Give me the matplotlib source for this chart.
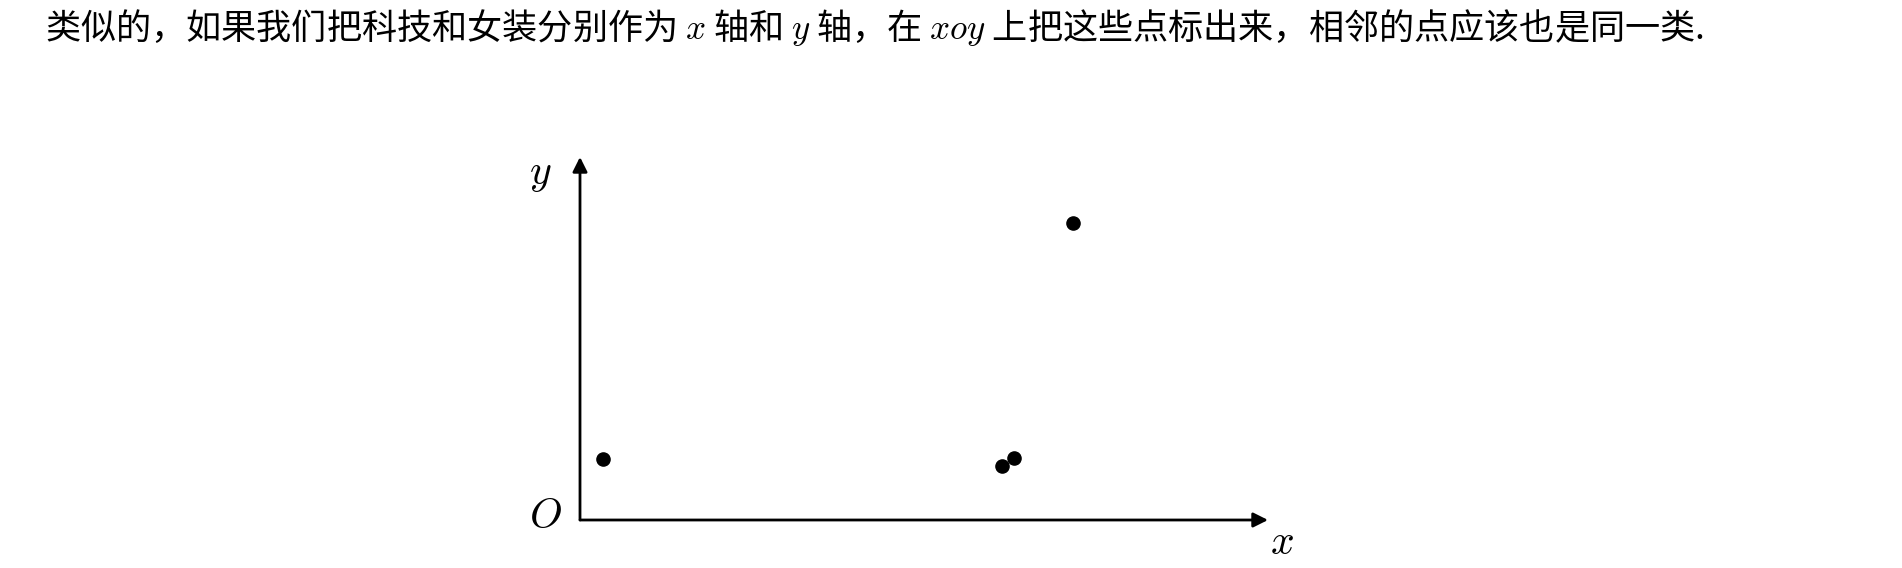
import numpy as np
import matplotlib.pyplot as plt

plt.rcParams['font.family'] = ['Noto Sans CJK SC', 'DejaVu Sans']
plt.rcParams['mathtext.fontset'] = 'cm'

# point positions (arbitrary units, origin at O)
xs = np.array([2.3, 42.2, 43.4, 49.3])
ys = np.array([6.1, 5.4, 6.2, 29.7])
x_max, y_max = 68.8, 36.3

caption = '类似的，如果我们把科技和女装分别作为 $x$ 轴和 $y$ 轴，在 $xoy$ 上把这些点标出来，相邻的点应该也是同一类.'

W, H = 1902, 568
fig = plt.figure(figsize=(W / 100, H / 100), dpi=100)

fig.text(45 / W, 1 - 28 / H, caption, fontsize=25.3, fontweight='light',
         va='center', ha='left')

# axes placed so that O sits at the reference position
ax = fig.add_axes([580 / W, (H - 520) / H, 688 / W, 363 / H])
ax.set_xlim(0, x_max)
ax.set_ylim(0, y_max)
ax.axis('off')

arrow = dict(arrowstyle='-|>', lw=2, color='black', mutation_scale=22,
             shrinkA=0, shrinkB=0)
ax.annotate('', xy=(x_max, 0), xytext=(0, 0), arrowprops=arrow,
            annotation_clip=False)
ax.annotate('', xy=(0, y_max), xytext=(0, 0), arrowprops=arrow,
            annotation_clip=False)

ax.scatter(xs, ys, s=90, color='black', zorder=3, clip_on=False)

ax.text(-3.5, 0.3, '$O$', fontsize=30, ha='center', va='center')
ax.text(-4.0, y_max - 1.6, '$y$', fontsize=30, ha='center', va='center')
ax.text(x_max + 1.4, -2.3, '$x$', fontsize=30, ha='center', va='center')

fig.savefig('out.png', dpi=100)
